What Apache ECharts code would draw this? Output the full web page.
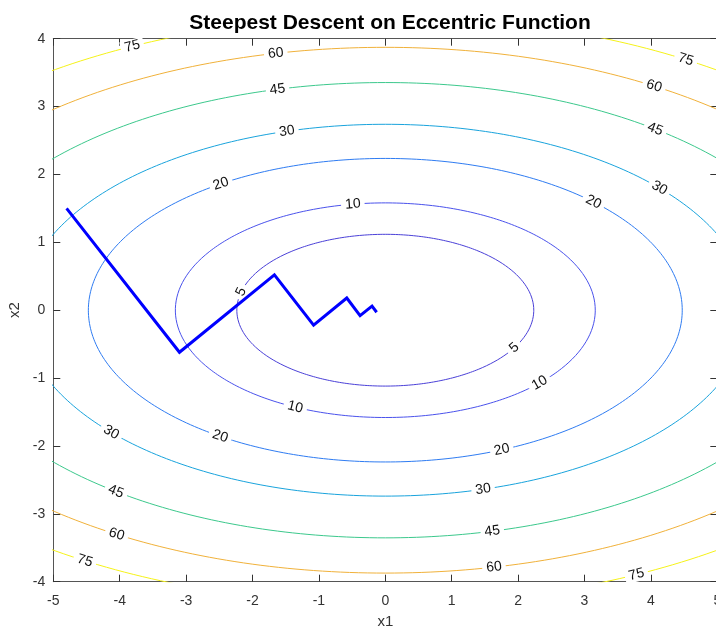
<!DOCTYPE html>
<html>
<head>
<meta charset="utf-8">
<script src="https://cdn.jsdelivr.net/npm/echarts@6/dist/echarts.min.js"></script>
<style>
  html, body { margin: 0; padding: 0; background: #fff; overflow: hidden; }
  #chart { width: 716px; height: 632px; }
</style>
</head>
<body>
<div id="chart"></div>
<script>
// ---- data ----
const levels = [5, 10, 20, 30, 45, 60, 75];
// semi-axes of each elliptical contour (x1 half-width, x2 half-height)
const semiAxisX1 = [2.236, 3.162, 4.472, 5.477, 6.708, 7.746, 8.660];
const semiAxisX2 = [1.118, 1.581, 2.236, 2.739, 3.354, 3.873, 4.330];
// steepest descent iterates
const pathX1 = [-4.80, -3.10, -1.67, -1.08, -0.58, -0.38, -0.20, -0.13];
const pathX2 = [1.50, -0.62, 0.52, -0.22, 0.18, -0.08, 0.06, -0.03];
// axis ticks
const xTickValues = [-5, -4, -3, -2, -1, 0, 1, 2, 3, 4, 5];
const yTickValues = [-4, -3, -2, -1, 0, 1, 2, 3, 4];

// ---- styles / label placement (not data) ----
const levelColors = ['#4a40d8', '#4a52ec', '#2f7cf2', '#19a3dc', '#3cc88c', '#f0b13a', '#f5f219'];
// where along each ellipse (parametric angle, degrees) a label sits
const labelAngles = [
  [166, 330.3],
  [98.9, 244.6, 317.3],
  [123.6, 45.5, 236.2, 293.1],
  [105.7, 41.1, 221.1, 285.6],
  [104.0, 52.7, 232.8, 283.9],
  [102.3, 58.5, 238.5, 282.2],
  [116.1, 58.5, 238.5, 295.9]
];

function ellipse(a, b) {
  const pts = [];
  for (let d = 0; d <= 360; d += 1) {
    const t = d * Math.PI / 180;
    pts.push([a * Math.cos(t), b * Math.sin(t)]);
  }
  return pts;
}

const series = [];
levels.forEach((lv, i) => {
  series.push({
    type: 'line',
    name: 'level ' + lv,
    data: ellipse(semiAxisX1[i], semiAxisX2[i]),
    showSymbol: false,
    symbol: 'none',
    smooth: false,
    clip: true,
    lineStyle: { width: 1, color: levelColors[i] },
    z: 1,
    silent: true,
    animation: false
  });
});

const labelData = [];
labelAngles.forEach((arr, i) => arr.forEach(th => labelData.push([i, th])));

series.push({
  type: 'custom',
  data: labelData,
  z: 2,
  silent: true,
  animation: false,
  renderItem: function (params, api) {
    const i = api.value(0);
    const th = api.value(1) * Math.PI / 180;
    const a = semiAxisX1[i], b = semiAxisX2[i];
    const p = api.coord([a * Math.cos(th), b * Math.sin(th)]);
    const q = api.coord([a * Math.cos(th + 0.01), b * Math.sin(th + 0.01)]);
    let ang = Math.atan2(q[1] - p[1], q[0] - p[0]);
    if (ang > Math.PI / 2) ang -= Math.PI;
    if (ang < -Math.PI / 2) ang += Math.PI;
    return {
      type: 'text',
      x: p[0],
      y: p[1],
      rotation: -ang,
      style: {
        text: String(levels[i]),
        font: '14px "Liberation Sans", Arial, sans-serif',
        fill: '#111',
        align: 'center',
        verticalAlign: 'middle',
        backgroundColor: '#fff',
        padding: [0, 4]
      }
    };
  }
});

series.push({
  type: 'line',
  name: 'path',
  data: pathX1.map((x, k) => [x, pathX2[k]]),
  showSymbol: false,
  symbol: 'none',
  lineStyle: { width: 3, color: '#0000ff', join: 'miter' },
  z: 3,
  animation: false
});

const axisCommon = {
  type: 'value',
  splitLine: { show: false },
  axisLine: { show: true, onZero: false, lineStyle: { color: '#555', width: 1 } },
  axisTick: { show: true, inside: true, length: 7, lineStyle: { color: '#333' } }
};

const chart = echarts.init(document.getElementById('chart'), null, { renderer: 'canvas' });
chart.setOption({
  animation: false,
  backgroundColor: '#fff',
  title: {
    text: 'Steepest Descent on Eccentric Function',
    left: 385,
    top: 8,
    textAlign: 'center',
    textStyle: { fontFamily: '"Liberation Sans", Arial, sans-serif', fontWeight: 'bold', fontSize: 21, color: '#000' }
  },
  grid: { left: 53.3, top: 38.7, width: 664, height: 543, containLabel: false, outerBoundsMode: 'none' },
  xAxis: [
    Object.assign({}, axisCommon, {
      position: 'bottom',
      min: xTickValues[0], max: xTickValues[xTickValues.length - 1], interval: 1,
      name: 'x1', nameLocation: 'middle', nameGap: 33,
      nameTextStyle: { fontFamily: '"Liberation Sans", Arial, sans-serif', fontSize: 15, color: '#333' },
      axisLabel: { margin: 12, fontFamily: '"Liberation Sans", Arial, sans-serif', fontSize: 14, color: '#333', showMaxLabel: true, showMinLabel: true }
    }),
    Object.assign({}, axisCommon, {
      position: 'top',
      min: xTickValues[0], max: xTickValues[xTickValues.length - 1], interval: 1,
      axisLabel: { show: false }
    })
  ],
  yAxis: [
    Object.assign({}, axisCommon, {
      position: 'left',
      min: yTickValues[0], max: yTickValues[yTickValues.length - 1], interval: 1,
      name: 'x2', nameLocation: 'middle', nameGap: 27,
      nameTextStyle: { fontFamily: '"Liberation Sans", Arial, sans-serif', fontSize: 15, color: '#333' },
      axisLabel: { margin: 8, fontFamily: '"Liberation Sans", Arial, sans-serif', fontSize: 14, color: '#333' }
    }),
    Object.assign({}, axisCommon, {
      position: 'right',
      min: yTickValues[0], max: yTickValues[yTickValues.length - 1], interval: 1,
      axisLabel: { show: false }
    })
  ],
  series: series
});
</script>
</body>
</html>
